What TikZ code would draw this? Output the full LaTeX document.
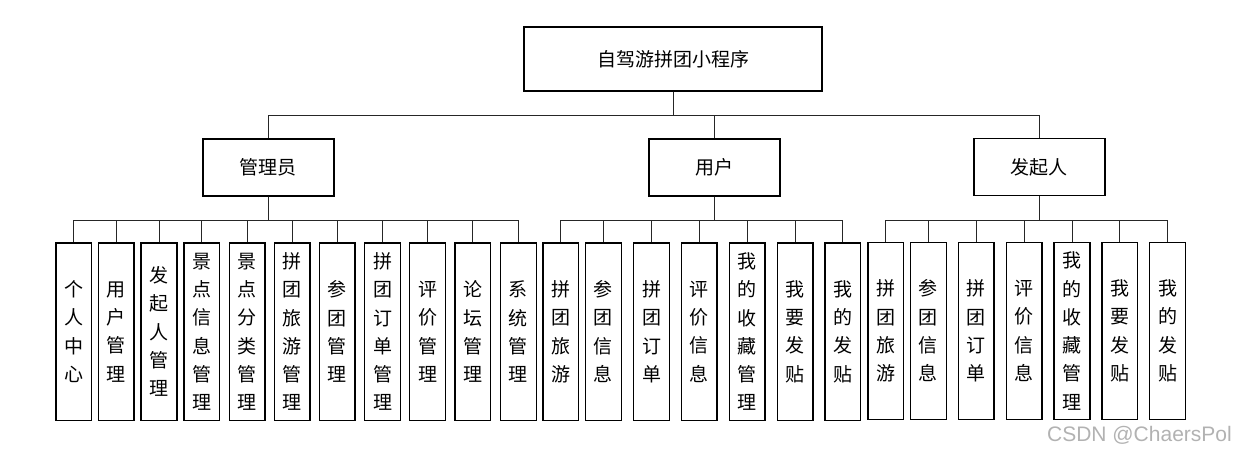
\documentclass[tikz,border=0pt]{standalone}
\usepackage{fontspec}
\newfontfamily\cjk{Noto Sans CJK SC}
\setsansfont{Liberation Sans}
\begin{document}
\begin{tikzpicture}[x=1pt,y=-1pt,
  box/.style={draw=black,line width=1.4pt,fill=white,inner sep=0pt,font=\cjk\fontsize{19}{22}\selectfont},
  topbox/.style={box,minimum width=298pt,minimum height=64pt},
  rolebox/.style={box,minimum width=131pt,minimum height=57pt},
  leafbox/.style={box,minimum width=35.7pt,minimum height=177.5pt,align=center,font=\cjk\fontsize{19}{28.3}\selectfont},
  conn/.style={draw=black!85,line width=0.9pt}]
\useasboundingbox (0,0) rectangle (1238,454);
\node[topbox] (root) at (673,59) {自驾游拼团小程序};
\node[rolebox] (adm) at (268.3,167.5) {管理员};
\node[rolebox] (usr) at (714.3,167.5) {用户};
\node[rolebox] (spn) at (1039.3,167) {发起人};
\foreach \r in {adm,usr,spn}{\draw[conn] (root.south) -- ++(0,24) -| (\r.north);}
% admin leaves
\foreach \n/\x/\t in {a1/73.8/个\\人\\中\\心, a2/116.2/用\\户\\管\\理, a3/159/发\\起\\人\\管\\理, a4/201.7/景\\点\\信\\息\\管\\理, a5/247.1/景\\点\\分\\类\\管\\理, a6/292.2/拼\\团\\旅\\游\\管\\理, a7/337.3/参\\团\\管\\理, a8/382.6/拼\\团\\订\\单\\管\\理, a9/427.6/评\\价\\管\\理, a10/472.9/论\\坛\\管\\理, a11/518.4/系\\统\\管\\理}{
  \node[leafbox] (\n) at (\x,331.7) {\t};
  \draw[conn] (adm.south) -- ++(0,23.5) -| (\n.north);
}
\foreach \n/\x/\t in {u1/560.7/拼\\团\\旅\\游, u2/603.4/参\\团\\信\\息, u3/651.6/拼\\团\\订\\单, u4/699.1/评\\价\\信\\息, u5/747.3/我\\的\\收\\藏\\管\\理, u6/795.2/我\\要\\发\\贴, u7/842.8/我\\的\\发\\贴}{
  \node[leafbox] (\n) at (\x,331.7) {\t};
  \draw[conn] (usr.south) -- ++(0,23.5) -| (\n.north);
}
\foreach \n/\x/\t in {s1/885.7/拼\\团\\旅\\游, s2/928.4/参\\团\\信\\息, s3/976.3/拼\\团\\订\\单, s4/1024.1/评\\价\\信\\息, s5/1072/我\\的\\收\\藏\\管\\理, s6/1119.8/我\\要\\发\\贴, s7/1167.6/我\\的\\发\\贴}{
  \node[leafbox] (\n) at (\x,331) {\t};
  \draw[conn] (spn.south) -- ++(0,24) -| (\n.north);
}
\node[anchor=base east,text=black!30,font=\sffamily\fontsize{21}{24}\selectfont,inner sep=0pt] (wm) at (1232,441) {CSDN @ChaersPol};
\end{tikzpicture}
\end{document}
